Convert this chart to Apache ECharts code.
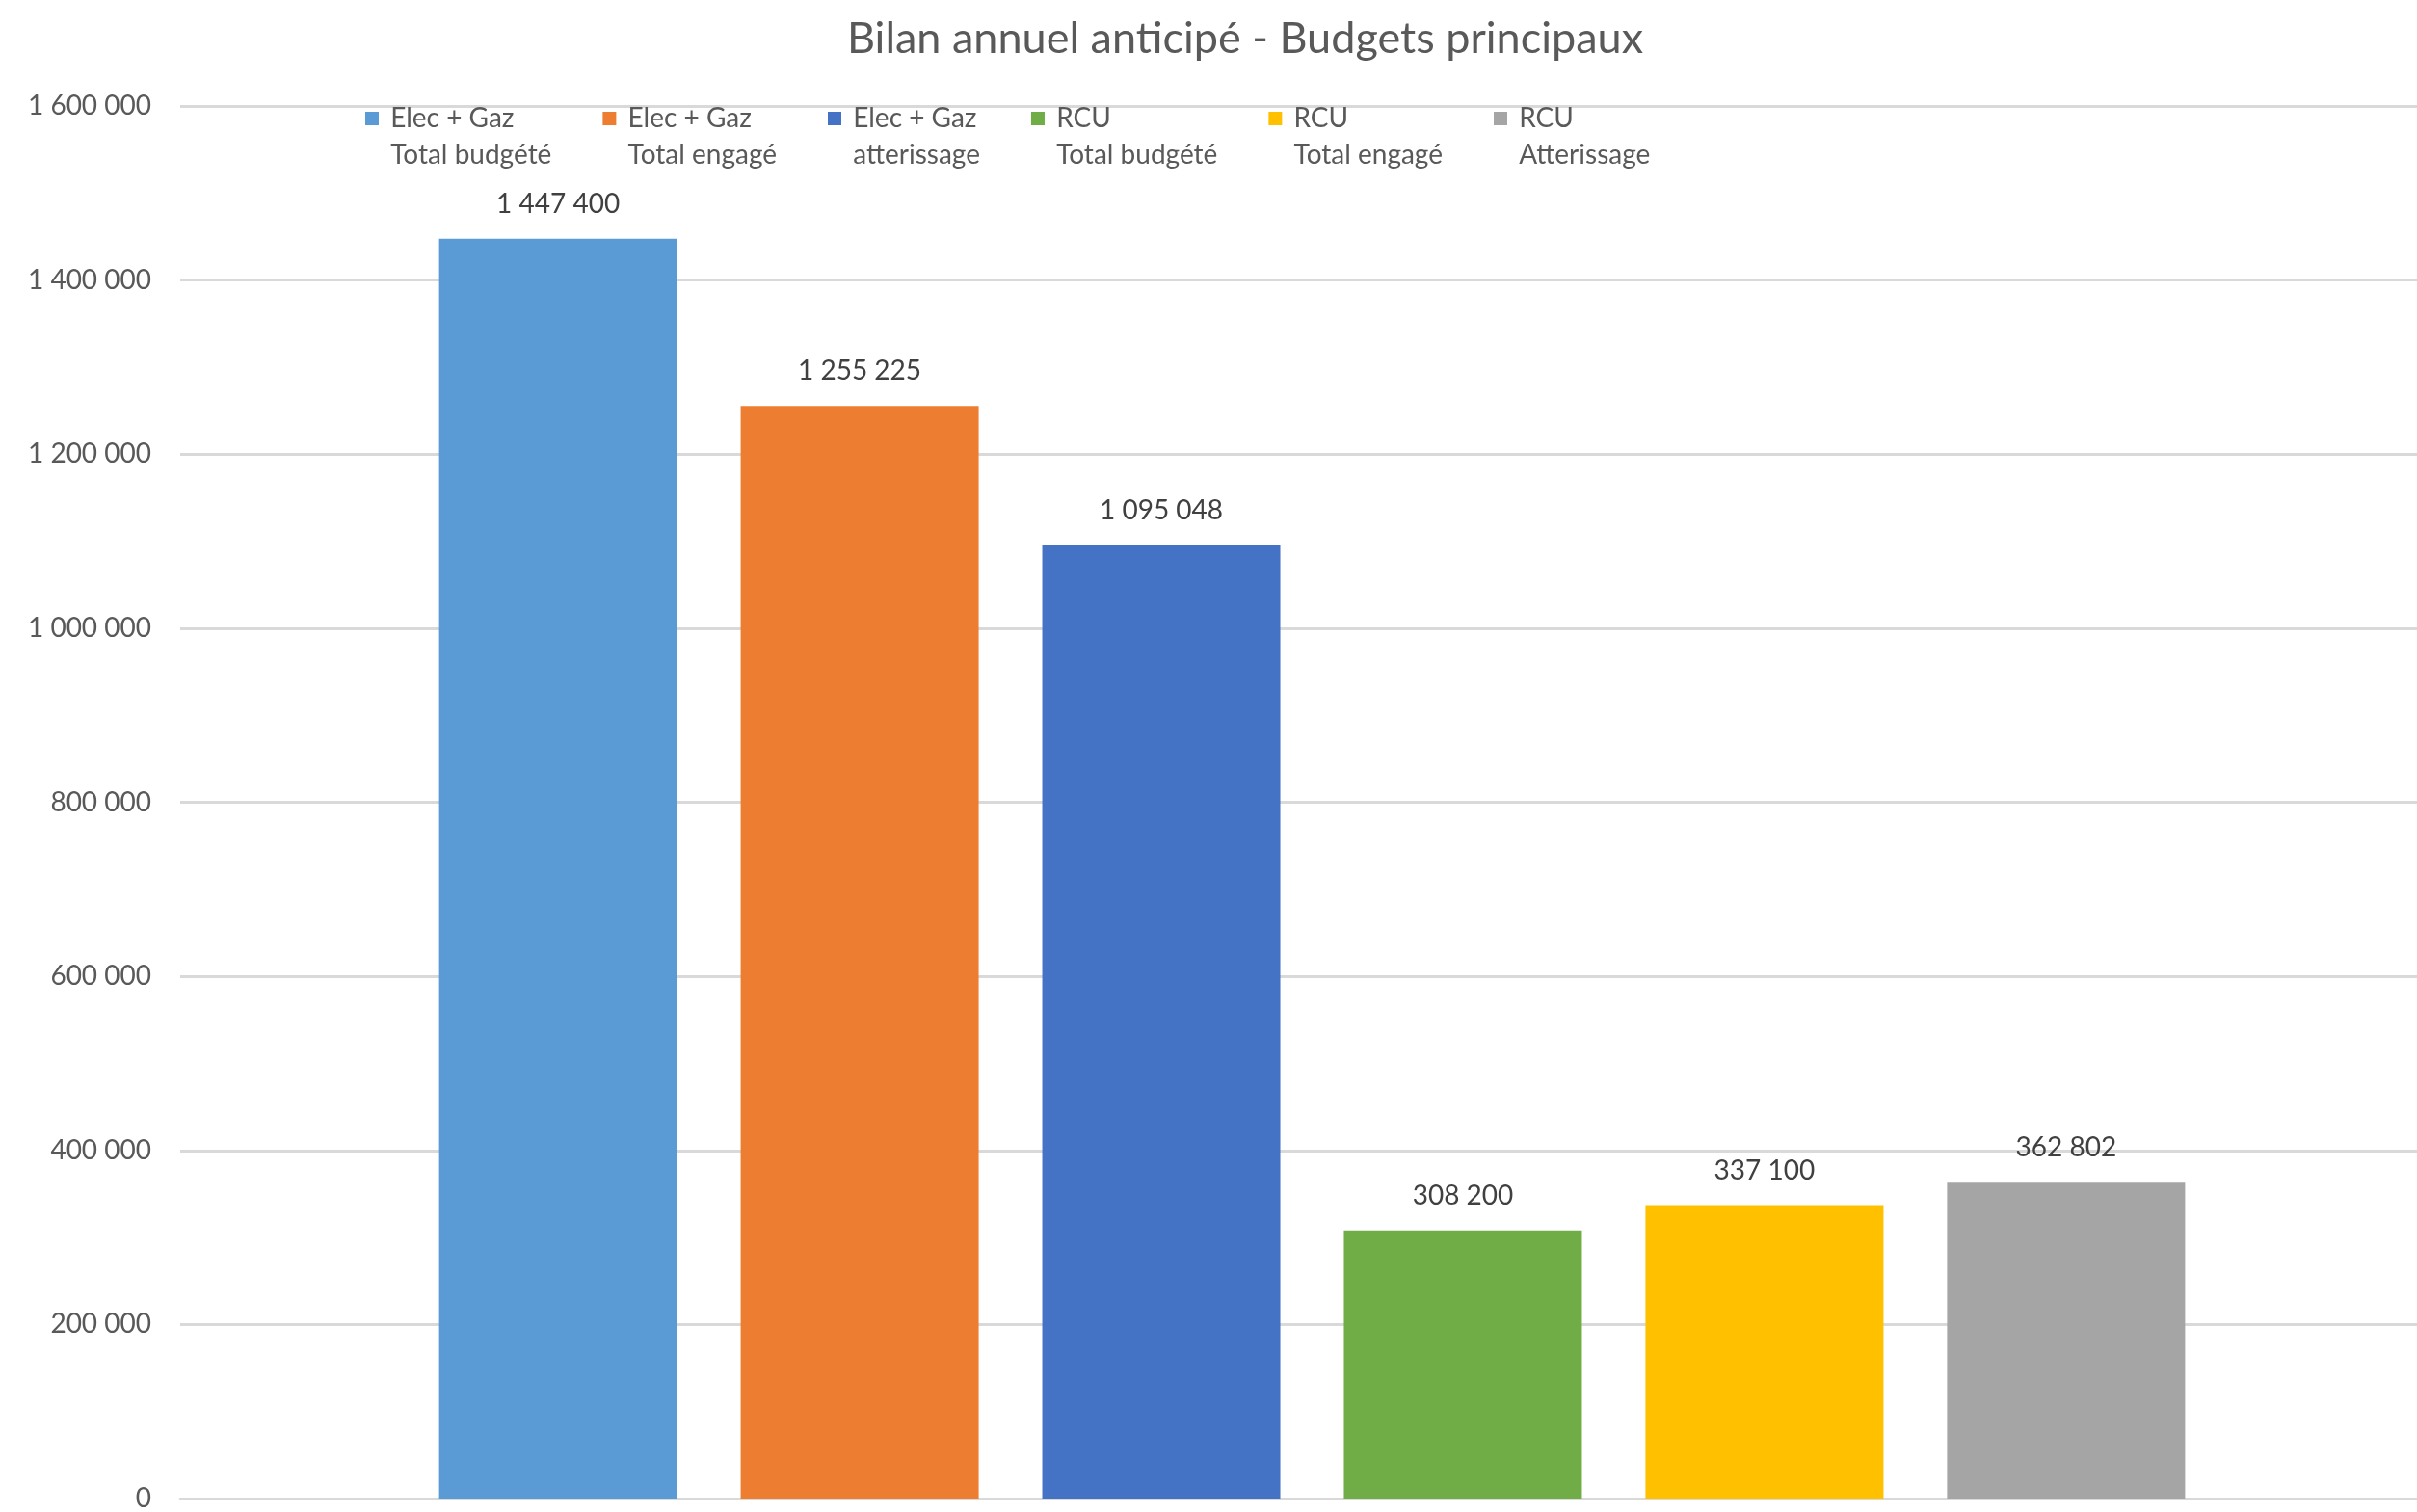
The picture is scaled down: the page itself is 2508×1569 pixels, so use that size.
<!DOCTYPE html>
<html><head><meta charset="utf-8">
<script src="https://cdn.jsdelivr.net/npm/echarts@6/dist/echarts.min.js"></script>
<style>html,body{margin:0;padding:0;background:#fff;overflow:hidden}#c{width:2536px;height:1569px}</style>
</head><body><div id="c"></div>
<script>
const seriesNames = ["Elec + Gaz\nTotal budgété","Elec + Gaz\nTotal engagé","Elec + Gaz\natterissage","RCU\nTotal budgété","RCU\nTotal engagé","RCU\nAtterissage"];
const seriesValues = [1447400, 1255225, 1095048, 308200, 337100, 362802];
const seriesColors = ["#5B9BD5","#ED7D31","#4472C4","#70AD47","#FFC000","#A5A5A5"];
const categories = [""];
const yTicks = {min:0, max:1600000, interval:200000};

const FONT = "Lato";
function fmt(v){ return String(Math.round(v)).replace(/\B(?=(\d{3})+(?!\d))/g, " "); }

const chart = echarts.init(document.getElementById('c'));
chart.setOption({
  animation:false,
  backgroundColor:'#fff',
  title:{text:'Bilan annuel anticipé - Budgets principaux', left:1287, textAlign:'center', top:13,
    textStyle:{fontFamily:FONT, fontSize:45, fontWeight:'normal', color:'#595959'}},
  legend:{left:374, top:61, itemWidth:14, itemHeight:14, itemGap:53, icon:'rect',
    formatter: n => '\n' + n.split('\n').map(s=>' '+s).join('\n'),
    textStyle:{fontFamily:FONT, fontSize:28, color:'#595959', lineHeight:38},
    data:seriesNames},
  grid:{left:187, right:0, top:110, bottom:11, containLabel:false},
  xAxis:{type:'category', data:categories, axisTick:{show:false}, axisLabel:{show:false},
    axisLine:{lineStyle:{color:'#d9d9d9', width:3}}},
  yAxis:{type:'value', min:yTicks.min, max:yTicks.max, interval:yTicks.interval,
    axisLine:{show:false}, axisTick:{show:false},
    axisLabel:{fontFamily:FONT, fontSize:28, color:'#595959', margin:30, formatter:fmt},
    splitLine:{lineStyle:{color:'#d9d9d9', width:3}}},
  series: seriesNames.map((n,i)=>({
    name:n, type:'bar', data:[seriesValues[i]], barWidth:247, barGap:'26.7%',
    itemStyle:{color:seriesColors[i]},
    label:{show:true, position:'top', distance:22, fontFamily:FONT, fontSize:28, color:'#404040', formatter:p=>fmt(p.value)}
  }))
});
</script></body></html>
